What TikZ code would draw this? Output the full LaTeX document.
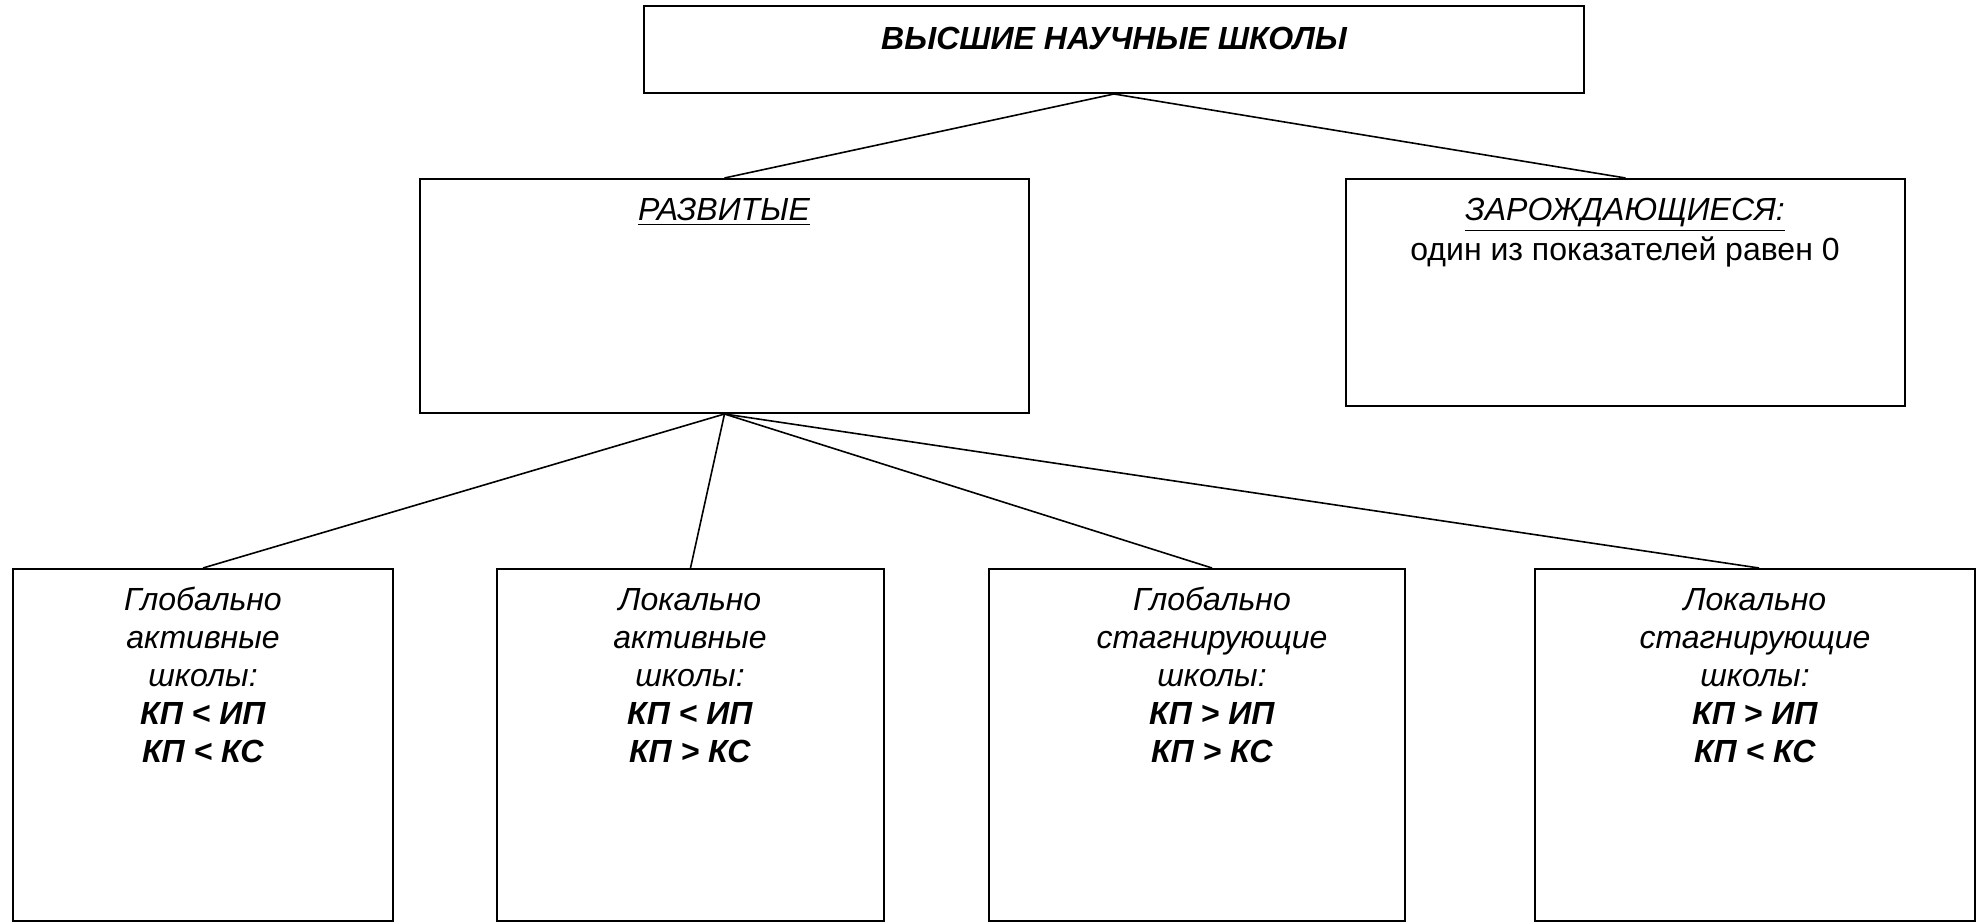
\documentclass[tikz,border=0pt]{standalone}
\usepackage{fontspec}
\setmainfont{Liberation Sans}
\usetikzlibrary{fit}
\begin{document}
\begin{tikzpicture}[x=0.5pt,y=-0.5pt,
  box/.style={draw,line width=1pt,inner sep=0pt},
  link/.style={line width=0.8pt},
  txt/.style={font=\fontsize{16}{19}\selectfont,align=center,inner sep=0pt,anchor=base}]
\useasboundingbox (0,0) rectangle (1978,924);
% boxes
\node[box,fit={(644,6) (1584,93)}] (top) {};
\node[box,fit={(420,179) (1029,413)}] (dev) {};
\node[box,fit={(1346,179) (1905,406)}] (emg) {};
\node[box,fit={(13,569) (393,921)}] (b1) {};
\node[box,fit={(497,569) (884,921)}] (b2) {};
\node[box,fit={(989,569) (1405,921)}] (b3) {};
\node[box,fit={(1535,569) (1975,921)}] (b4) {};
% texts
\node[txt,font=\fontsize{16}{19}\selectfont\bfseries\itshape] (ttop) at (1114,50) {ВЫСШИЕ НАУЧНЫЕ ШКОЛЫ};
\node[txt,font=\fontsize{16}{19}\selectfont\itshape] (tdev) at (724,221) {\underline{РАЗВИТЫЕ}};
\node[txt] (temg) at (1625,261) {\textit{\underline{ЗАРОЖДАЮЩИЕСЯ:}}\\[1pt]один из показателей равен 0};
\node[txt] (t1) at (203,763) {\textit{Глобально}\\\textit{активные}\\\textit{школы:}\\\textbf{\textit{КП < ИП}}\\\textbf{\textit{КП < КС}}};
\node[txt] (t2) at (690,763) {\textit{Локально}\\\textit{активные}\\\textit{школы:}\\\textbf{\textit{КП < ИП}}\\\textbf{\textit{КП > КС}}};
\node[txt] (t3) at (1212,763) {\textit{Глобально}\\\textit{стагнирующие}\\\textit{школы:}\\\textbf{\textit{КП > ИП}}\\\textbf{\textit{КП > КС}}};
\node[txt] (t4) at (1755,763) {\textit{Локально}\\\textit{стагнирующие}\\\textit{школы:}\\\textbf{\textit{КП > ИП}}\\\textbf{\textit{КП < КС}}};
% connectors
\draw[link] (top.south) -- (dev.north);
\draw[link] (top.south) -- (emg.north);
\draw[link] (dev.south) -- (b1.north);
\draw[link] (dev.south) -- (b2.north);
\draw[link] (dev.south) -- ([xshift=7.5pt]b3.north);
\draw[link] (dev.south) -- ([xshift=2pt]b4.north);
\end{tikzpicture}
\end{document}
